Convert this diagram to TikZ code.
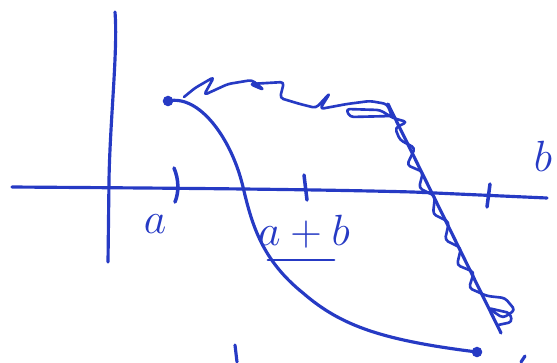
\documentclass[tikz,border=0pt]{standalone}
\usepackage{tikz}
\usetikzlibrary{positioning,calc}

\definecolor{ink}{RGB}{38,58,196}

\begin{document}
\begin{tikzpicture}[
  x=0.02cm, y=-0.02cm,
  pen/.style={draw=ink, line width=1.8pt, line cap=round, line join=round},
  tick/.style={pen, line width=2pt},
  lbl/.style={text=ink, inner sep=0pt, font=\fontsize{26}{26}\selectfont},
  dot/.style={fill=ink, circle, inner sep=0pt, minimum size=6pt}
]
\useasboundingbox (0,0) rectangle (557,362);

% ---- axes ----
\draw[pen] (12,187) .. controls (150,188) and (300,189) .. (413,192) -- (547,198);
\draw[pen] (115,12) .. controls (118,50) and (110,120) .. (109,180) -- (108,262);

% ---- ticks ----
\draw[tick] (174,168) .. controls (179,180) and (179,192) .. (175,202);
\draw[tick] (304,175) -- (307,200);
\draw[tick] (490,184) -- (487,207);

% ---- labels ----
\node[lbl] (a) at (155,224) {$a$};
\node[lbl, font=\fontsize{24}{24}\selectfont] (ab) at (304,232) {$a+b$};
\draw[pen, line width=1.5pt] ($(ab.south west)+(10,11)$) -- ($(ab.south east)+(-16,11)$);
\node[lbl, font=\fontsize{34}{34}\selectfont] (b) at (543,156) {$b$};

% ---- smooth curve ----
\coordinate (p0) at (168,101);
\coordinate (p1) at (477,352);
\node[dot] at (p0) {};
\node[dot] at (p1) {};
\draw[pen] (p0) .. controls (200,94) and (232,140) .. (243,187)
  .. controls (252,225) and (262,260) .. (303,293)
  .. controls (340,325) and (380,340) .. (p1);

% ---- wiggly curve ----
\draw[pen, line width=1.5pt, rounded corners=2pt]
  (184,97) -- (195,88) -- (214,77) -- (204,95) -- (228,84) -- (252,80)
  -- (264,90) -- (250,84) -- (284,82) -- (280,98) -- (300,104) -- (316,108)
  -- (330,93) -- (320,109) -- (347,104) -- (370,101) -- (387,104) -- (392,116)
  -- (350,117) -- (346,109) -- (380,110) -- (393,118)
  -- (407,122) -- (395,128) -- (400,140) -- (415,148) -- (407,165) -- (423,172)
  -- (419,188) -- (435,196) -- (433,214) -- (449,222) -- (445,240) -- (461,248)
  -- (457,265) -- (474,272) -- (469,288) -- (487,296) -- (505,298) -- (515,310)
  -- (503,318) -- (488,308) -- (510,313) -- (512,322) -- (498,325);
\draw[pen] (388,104) -- (501,333);

% ---- strokes cut by the bottom edge ----
\draw[pen] (235,345) -- (237,362);
\draw[pen] (521,362) -- (525,356);
\end{tikzpicture}
\end{document}
